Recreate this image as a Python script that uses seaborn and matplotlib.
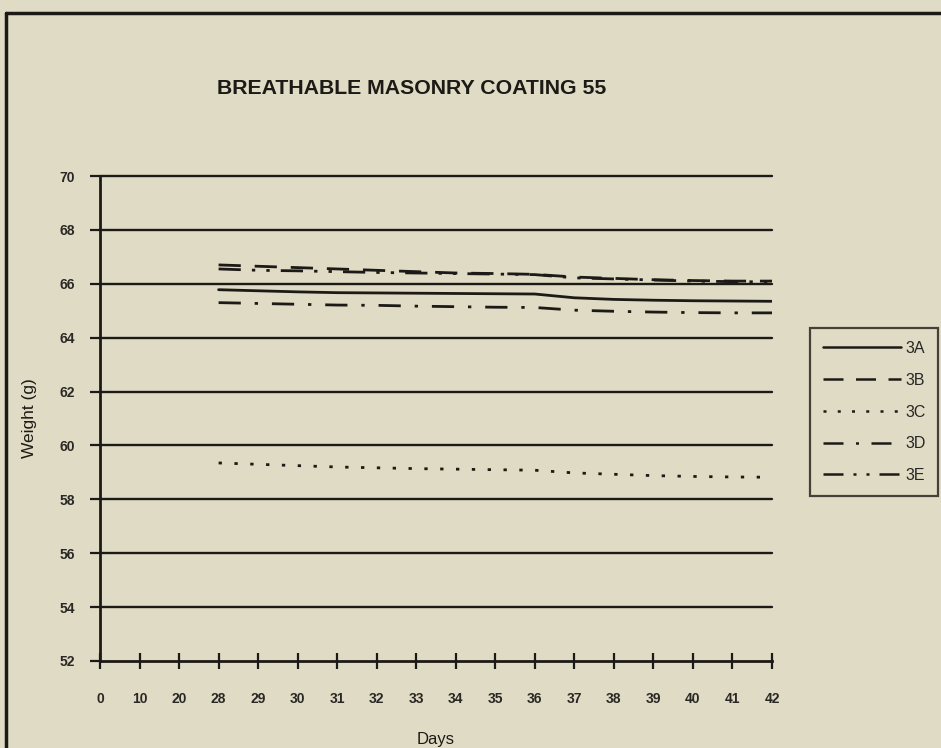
import matplotlib
matplotlib.use("Agg")
import matplotlib.pyplot as plt
from matplotlib.lines import Line2D
import seaborn as sns
import pandas as pd

# Day categories along the x axis (evenly spaced, categorical)
days = ["0", "10", "20", "28", "29", "30", "31", "32", "33", "34",
        "35", "36", "37", "38", "39", "40", "41", "42"]
# Measurements exist from day 28 onward
measured_days = days[3:]

w_3a = [65.78, 65.74, 65.70, 65.67, 65.66, 65.65, 65.64, 65.63, 65.62,
        65.48, 65.42, 65.39, 65.37, 65.36, 65.35]
w_3b = [66.70, 66.65, 66.60, 66.55, 66.50, 66.45, 66.40, 66.38, 66.35,
        66.25, 66.20, 66.15, 66.12, 66.10, 66.10]
w_3c = [59.35, 59.30, 59.25, 59.20, 59.17, 59.14, 59.12, 59.10, 59.08,
        58.98, 58.93, 58.88, 58.85, 58.83, 58.82]
w_3d = [65.30, 65.27, 65.24, 65.21, 65.20, 65.17, 65.15, 65.13, 65.12,
        65.02, 64.98, 64.95, 64.93, 64.92, 64.92]
w_3e = [66.55, 66.50, 66.48, 66.45, 66.42, 66.40, 66.38, 66.36, 66.34,
        66.22, 66.18, 66.14, 66.10, 66.08, 66.07]

series_names = ["3A", "3B", "3C", "3D", "3E"]
series_values = [w_3a, w_3b, w_3c, w_3d, w_3e]

y_ticks = [52, 54, 56, 58, 60, 62, 64, 66, 68, 70]

rows = []
for name, vals in zip(series_names, series_values):
    for d, v in zip(measured_days, vals):
        rows.append({"pos": days.index(d), "weight": v, "sample": name})
df = pd.DataFrame(rows)

bg = "#e0dbc4"
ink = "#1c1a16"

sns.set_style("white")
plt.rcParams["font.family"] = ["Liberation Sans", "DejaVu Sans"]

fig = plt.figure(figsize=(9.41, 7.48), dpi=100, facecolor=bg)
ax = fig.add_axes([100 / 941, 1 - 661 / 748, 672 / 941, 485 / 748])
ax.set_facecolor(bg)

dash_styles = {
    "3A": "",
    "3B": (8, 5),
    "3C": (1.2, 4.5),
    "3D": (8, 5, 1.2, 5),
    "3E": (8, 4, 1.2, 4, 1.2, 4),
}

sns.lineplot(data=df, x="pos", y="weight", style="sample",
             style_order=series_names, dashes=dash_styles,
             color=ink, linewidth=2.0, ax=ax, legend=True)

# Horizontal gridlines at every y tick
for yv in y_ticks[1:]:
    ax.axhline(yv, color=ink, linewidth=1.7, zorder=1, clip_on=False)

ax.set_xlim(0, len(days) - 1)
ax.set_ylim(52, 70)
ax.set_xticks(range(len(days)))
ax.set_xticklabels(days)
ax.set_yticks(y_ticks)
ax.set_yticklabels([str(v) for v in y_ticks])

for side in ["top", "right"]:
    ax.spines[side].set_visible(False)
for side in ["left", "bottom"]:
    ax.spines[side].set_color(ink)
    ax.spines[side].set_linewidth(2.0)

ax.tick_params(axis="x", bottom=True, direction="inout", length=12,
               width=1.6, colors=ink, pad=16, labelsize=10)
ax.tick_params(axis="y", left=True, direction="out", length=7,
               width=1.6, colors=ink, pad=11, labelsize=10)
for lbl in ax.get_xticklabels() + ax.get_yticklabels():
    lbl.set_fontweight("bold")
    lbl.set_color("#2a2824")

ax.set_xlabel("Days", fontsize=12, color=ink, labelpad=19)
ax.set_ylabel("Weight (g)", fontsize=12.5, color=ink, labelpad=16)

fig.text(412 / 941, 1 - 88 / 748, "BREATHABLE MASONRY COATING 55",
         ha="center", va="center", fontsize=15.3, fontweight="bold",
         color=ink)

handles, labels = ax.get_legend_handles_labels()
leg = ax.legend(handles, labels, loc="center left",
                bbox_to_anchor=(810 / 941, 1 - 412 / 748),
                bbox_transform=fig.transFigure,
                handlelength=4.9, handletextpad=0.25, labelspacing=1.05,
                borderpad=0.8, borderaxespad=0, fontsize=11.5,
                frameon=True, fancybox=False)
leg.get_frame().set_edgecolor(ink)
leg.get_frame().set_linewidth(1.6)
leg.get_frame().set_facecolor(bg)
for h in leg.get_lines():
    h.set_linewidth(1.8)
    h.set_color(ink)

# Outer frame: left and top edges
fig.add_artist(Line2D([6 / 941, 6 / 941], [0, 1 - 13 / 748],
                      transform=fig.transFigure, color=ink, linewidth=2.5))
fig.add_artist(Line2D([6 / 941, 1], [1 - 13 / 748, 1 - 13 / 748],
                      transform=fig.transFigure, color=ink, linewidth=2.5))

fig.savefig("out.png", dpi=100, facecolor=bg)
